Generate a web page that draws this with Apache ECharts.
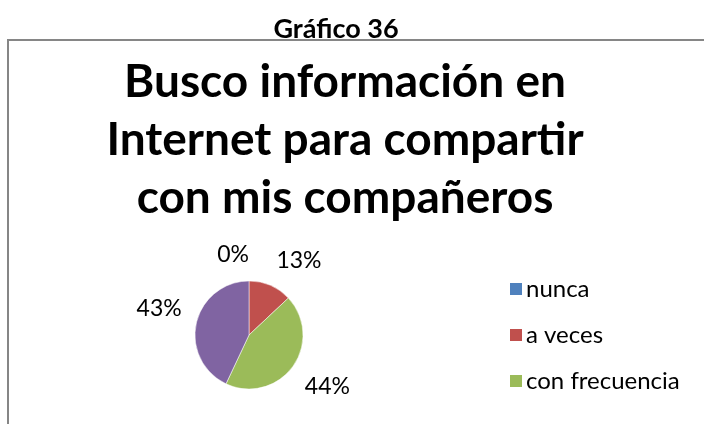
<!DOCTYPE html>
<html>
<head>
<meta charset="utf-8">
<style>
  html, body { margin: 0; padding: 0; background: #fff; }
  #chart { width: 704px; height: 424px; }
</style>
<script src="https://cdn.jsdelivr.net/npm/echarts@6/dist/echarts.min.js"></script>
</head>
<body>
<div id="chart"></div>
<script>
// Survey answers and their shares (%)
const categories = ['nunca', 'a veces', 'con frecuencia', 'siempre'];
const shares = [0, 13, 44, 43];
const legendItems = ['nunca', 'a veces', 'con frecuencia'];
const sliceColors = ['#4F81BD', '#C0504D', '#9BBB59', '#8064A2'];

const FONT = 'Lato, "Open Sans", sans-serif';
const PIE_CENTER = [249, 335];
const LABEL_RADIUS = 69;

const chart = echarts.init(document.getElementById('chart'), null, { renderer: 'canvas' });

chart.setOption({
  animation: false,
  backgroundColor: '#ffffff',
  color: sliceColors,
  graphic: [{
    type: 'rect',
    shape: { x: 8, y: 40, width: 720, height: 420 },
    style: { fill: 'none', stroke: '#868686', lineWidth: 2 },
    silent: true
  }],
  title: [{
    text: 'Gráfico 36',
    left: 331,
    top: 11,
    textAlign: 'center',
    textStyle: { fontFamily: FONT, fontWeight: 'bold', fontSize: 27, color: '#000' }
  }, {
    text: 'Busco información en\nInternet para compartir\ncon mis compañeros',
    left: 340,
    top: 48,
    textAlign: 'center',
    textStyle: { fontFamily: FONT, fontWeight: 'bold', fontSize: 46, lineHeight: 58, color: '#000' }
  }],
  legend: {
    orient: 'vertical',
    left: 503,
    top: 272,
    itemWidth: 14,
    itemHeight: 14,
    itemGap: 22,
    icon: 'rect',
    data: legendItems,
    textStyle: { fontFamily: FONT, fontSize: 24, color: '#000', padding: [0, 0, 0, -2] }
  },
  series: [{
    type: 'pie',
    center: PIE_CENTER,
    radius: 54,
    startAngle: 90,
    clockwise: true,
    avoidLabelOverlap: false,
    minShowLabelAngle: 0,
    itemStyle: { borderColor: '#ffffff', borderWidth: 0.5 },
    label: {
      show: true,
      position: 'outside',
      formatter: '{c}%',
      fontFamily: FONT,
      fontSize: 23,
      color: '#000'
    },
    labelLine: { show: false, length: 15, length2: 0 },
    // put the corner of each percentage box that faces the pie on the ray
    // through the slice's middle, just outside the rim
    labelLayout: function (params) {
      const p = params.labelLinePoints && params.labelLinePoints[0];
      if (!p) return {};
      const dx = p[0] - PIE_CENTER[0];
      const dy = p[1] - PIE_CENTER[1];
      const len = Math.sqrt(dx * dx + dy * dy) || 1;
      const ux = dx / len, uy = dy / len;
      return {
        x: PIE_CENTER[0] + ux * LABEL_RADIUS,
        y: PIE_CENTER[1] + uy * LABEL_RADIUS,
        align: ux > 0.01 ? 'left' : 'right',
        verticalAlign: uy < 0 ? 'bottom' : 'top'
      };
    },
    emphasis: { disabled: true },
    data: categories.map((name, i) => ({ name, value: shares[i] }))
  }]
});
</script>
</body>
</html>
